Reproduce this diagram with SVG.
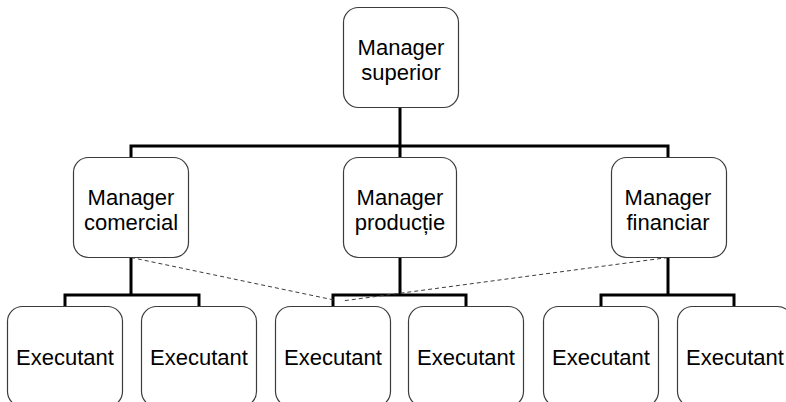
<svg xmlns="http://www.w3.org/2000/svg" width="786" height="402" viewBox="0 0 786 402">
  <style>
    .box { fill: #ffffff; stroke: #3c3c3c; stroke-width: 1.2; }
    .label { font-family: "Liberation Sans", Arial, sans-serif; font-size: 22px; fill: #000000; text-anchor: middle; }
    .tree { fill: none; stroke: #000000; stroke-width: 3; stroke-linecap: square; }
    .dash { fill: none; stroke: #3c3c3c; stroke-width: 1; stroke-dasharray: 4 3; }
  </style>
  <rect width="786" height="402" fill="#ffffff"/>

  <!-- hierarchy links -->
  <g id="connectors">
    <path class="tree" d="M400,108 V156 M131,146 H668 M131,146 V156 M668,146 V156"/>
    <path class="tree" d="M131,258 V295 M65,295 H199 M65,295 V305 M199,295 V305"/>
    <path class="tree" d="M400,258 V295 M333,295 H466 M333,295 V305 M466,295 V305"/>
    <path class="tree" d="M668,258 V295 M601,295 H734 M601,295 V305 M734,295 V305"/>
    <path class="dash" d="M131,257.5 L334,300"/>
    <path class="dash" d="M668,257.5 L342,301"/>
  </g>

  <g id="manager-superior">
    <rect class="box" x="343.5" y="7.5" width="115" height="100" rx="15"/>
    <text class="label" x="401" y="55">Manager</text>
    <text class="label" x="401" y="80">superior</text>
  </g>

  <g id="manager-comercial">
    <rect class="box" x="73.5" y="157.5" width="115" height="100" rx="15"/>
    <text class="label" x="131" y="205">Manager</text>
    <text class="label" x="131" y="230">comercial</text>
  </g>

  <g id="manager-productie">
    <rect class="box" x="343.5" y="157.5" width="113" height="100" rx="15"/>
    <text class="label" x="400" y="205">Manager</text>
    <text class="label" x="400" y="230">producție</text>
  </g>

  <g id="manager-financiar">
    <rect class="box" x="611.5" y="157.5" width="115" height="100" rx="15"/>
    <text class="label" x="668" y="205">Manager</text>
    <text class="label" x="668" y="230">financiar</text>
  </g>

  <g id="executant-1">
    <rect class="box" x="7.5" y="306.5" width="115" height="100" rx="15"/>
    <text class="label" x="65" y="365">Executant</text>
  </g>
  <g id="executant-2">
    <rect class="box" x="141.5" y="306.5" width="115" height="100" rx="15"/>
    <text class="label" x="199" y="365">Executant</text>
  </g>
  <g id="executant-3">
    <rect class="box" x="275.5" y="306.5" width="115" height="100" rx="15"/>
    <text class="label" x="333" y="365">Executant</text>
  </g>
  <g id="executant-4">
    <rect class="box" x="408.5" y="306.5" width="115" height="100" rx="15"/>
    <text class="label" x="466" y="365">Executant</text>
  </g>
  <g id="executant-5">
    <rect class="box" x="543.5" y="306.5" width="115" height="100" rx="15"/>
    <text class="label" x="601" y="365">Executant</text>
  </g>
  <g id="executant-6">
    <rect class="box" x="677.5" y="306.5" width="115" height="100" rx="15"/>
    <text class="label" x="735" y="365">Executant</text>
  </g>
</svg>
